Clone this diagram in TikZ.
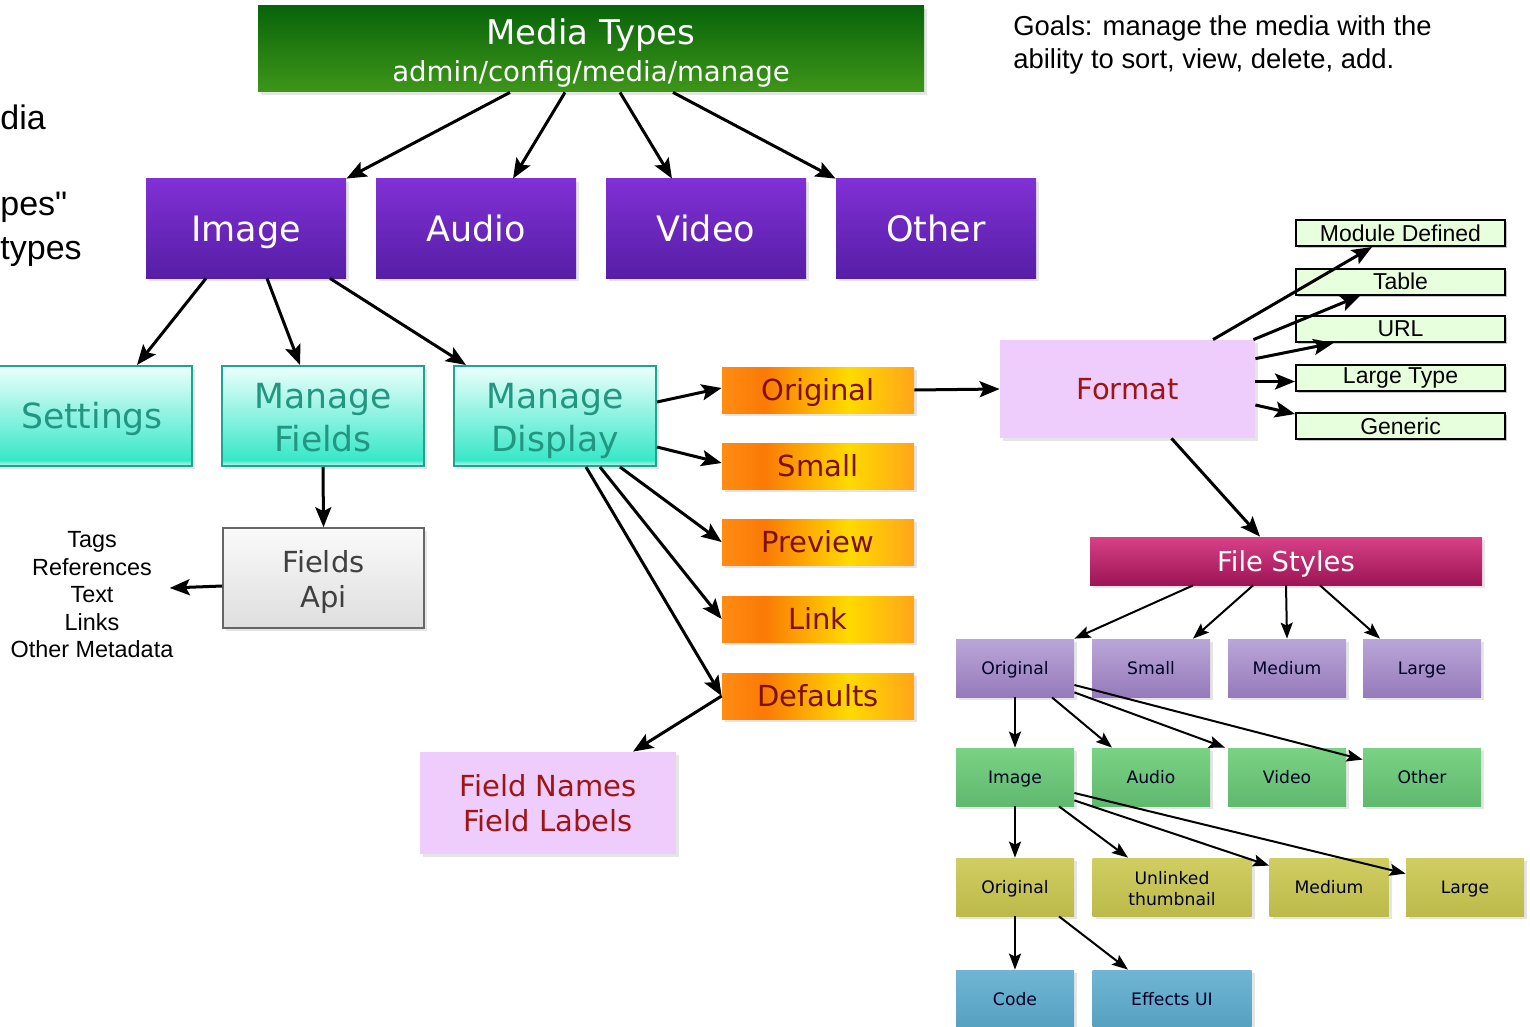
\documentclass[tikz,border=0pt]{standalone}
\usepackage{fontspec}
\setmainfont{DejaVu Sans}
\newfontfamily\helv{Liberation Sans}
\usetikzlibrary{arrows.meta,shadows}
\tikzset{>={Stealth[length=10pt,width=8pt,inset=2pt]}}
\definecolor{mtTop}{RGB}{8,100,10}
\definecolor{mtBot}{RGB}{62,150,25}
\definecolor{typeTop}{RGB}{128,48,212}
\definecolor{typeBot}{RGB}{86,30,166}
\definecolor{tealLo}{RGB}{205,250,240}
\definecolor{tealMid}{RGB}{55,232,200}
\definecolor{tealHi}{RGB}{236,255,252}
\definecolor{tealLine}{RGB}{30,165,145}
\definecolor{tealText}{RGB}{35,150,130}
\definecolor{orA}{RGB}{255,140,20}
\definecolor{orB}{RGB}{250,122,5}
\definecolor{orC}{RGB}{255,218,0}
\definecolor{orD}{RGB}{255,165,25}
\definecolor{wine}{RGB}{125,15,5}
\definecolor{brick}{RGB}{160,20,20}
\definecolor{lilac}{RGB}{238,205,252}
\definecolor{mint}{RGB}{232,255,222}
\definecolor{apiTop}{RGB}{250,250,250}
\definecolor{apiBot}{RGB}{222,222,222}
\definecolor{fsTop}{RGB}{215,65,135}
\definecolor{fsBot}{RGB}{158,20,85}
\definecolor{pTop}{RGB}{186,166,216}
\definecolor{pBot}{RGB}{150,122,186}
\definecolor{gTop}{RGB}{122,210,132}
\definecolor{gBot}{RGB}{95,185,110}
\definecolor{yTop}{RGB}{208,206,98}
\definecolor{yBot}{RGB}{188,186,74}
\definecolor{bTop}{RGB}{112,182,212}
\definecolor{bBot}{RGB}{86,160,192}
\colorlet{smallText}{black!85!blue}
\pgfdeclareverticalshading{tealfill}{100bp}{color(0bp)=(tealLo); color(25bp)=(tealLo); color(28bp)=(tealMid); color(75bp)=(tealHi); color(100bp)=(tealHi)}
\pgfdeclarehorizontalshading{orangefill}{100bp}{color(0bp)=(orA); color(25bp)=(orA); color(36bp)=(orB); color(58bp)=(orC); color(75bp)=(orD); color(100bp)=(orD)}
\tikzset{
  box/.style={rectangle, inner sep=2pt, align=center,
    drop shadow={opacity=.2, shadow xshift=1.5pt, shadow yshift=-1.5pt}},
  mtbox/.style={box, top color=mtTop, bottom color=mtBot, text=white, text height=33pt, text depth=0pt,
    minimum width=333pt, minimum height=43pt, font=\fontsize{17}{18.5}\selectfont},
  typebox/.style={box, top color=typeTop, bottom color=typeBot, text=white, text height=12.8pt, text depth=0pt,
    minimum width=100pt, minimum height=49.5pt, font=\fontsize{17.5}{21}\selectfont},
  pagebox/.style={box, shading=tealfill, draw=tealLine, line width=1pt, text=tealText,
    minimum width=100pt, minimum height=50pt, font=\fontsize{17.3}{21.5}\selectfont},
  onerow/.style={text height=12.6pt, text depth=0pt},
  tworow/.style={text height=35pt, text depth=0pt},
  apibox/.style={box, top color=apiTop, bottom color=apiBot, draw=black!60, line width=.8pt,
    text=black!75, text height=29pt, text depth=0pt,
    minimum width=100.5pt, minimum height=50pt, font=\fontsize{14.5}{17.5}\selectfont},
  fmtbox/.style={box, shading=orangefill, text=wine, text height=10.6pt, text depth=0pt,
    minimum width=96pt, minimum height=23pt, font=\fontsize{14.5}{17.5}\selectfont},
  pinkbox/.style={box, fill=lilac, text=brick, font=\fontsize{14.5}{17.5}\selectfont},
  typebar/.style={rectangle, draw=black, line width=1pt, fill=mint, inner sep=0pt,
    minimum width=104.5pt, minimum height=13pt, font=\helv\fontsize{11.5}{13}\selectfont,
    drop shadow={opacity=.45, shadow xshift=1pt, shadow yshift=-1pt}},
  fsbox/.style={box, top color=fsTop, bottom color=fsBot, text=white, text height=10pt, text depth=0pt,
    minimum width=196pt, minimum height=24pt, font=\fontsize{13.7}{16}\selectfont},
  small/.style={box, minimum width=59pt, minimum height=29pt, text=smallText,
    text height=6.3pt, text depth=0pt, font=\fontsize{8.6}{10.5}\selectfont},
  psmall/.style={small, top color=pTop, bottom color=pBot},
  gsmall/.style={small, top color=gTop, bottom color=gBot},
  ysmall/.style={small, top color=yTop, bottom color=yBot},
  bsmall/.style={small, top color=bTop, bottom color=bBot},
  note/.style={inner sep=0pt, font=\helv\fontsize{11.7}{13.75}\selectfont},
  cut/.style={anchor=base west, inner sep=0pt, font=\helv\fontsize{17}{21}\selectfont},
  arr/.style={->, line width=1.5pt},
  sarr/.style={-{Stealth[length=8pt,width=6pt,inset=1.5pt]}, line width=1pt}
}

\begin{document}
\begin{tikzpicture}[x=0.5pt,y=-0.5pt]
  \fill[white] (0,0) rectangle (1530,1027);
  \clip (0,0) rectangle (1530,1027);

  % cut off on the left
  \node[cut] (l1) at (0,130) {dia};
  \node[cut] (l2) at (0,216) {pes"};
  \node[cut] (l3) at (0,259) {types};

  \node[anchor=west, align=left, inner sep=0pt, font=\helv\fontsize{13.7}{16.5}\selectfont] (goals) at (1013,45)
    {Goals: manage the media with the\\ability to sort, view, delete, add.};

  \node[mtbox] (media) at (591,49) {Media Types\\{\fontsize{13.8}{18.5}\selectfont admin/config/media/manage}};

  \node[typebox] (image) at (246,228.5) {Image};
  \node[typebox] (audio) at (476,228.5) {Audio};
  \node[typebox] (video) at (706,228.5) {Video};
  \node[typebox] (other) at (936,228.5) {Other};

  \node[pagebox, onerow] (settings) at (92,416) {Settings};
  \node[pagebox, tworow, minimum width=101pt] (fields) at (323,416) {Manage\\Fields};
  \node[pagebox, tworow, minimum width=101pt] (display) at (555,416) {Manage\\Display};

  \node[apibox] (api) at (323.5,578) {Fields\\Api};
  \node[note, align=center] (meta) at (92,595) {Tags\\References\\Text\\Links\\Other Metadata};

  \foreach \n/\t/\y in {orig/Original/390, small/Small/466, preview/Preview/542, link/Link/619, defaults/Defaults/696}
    \node[fmtbox] (\n) at (818,\y) {\t};

  \node[pinkbox, minimum width=128pt, minimum height=51pt] (names) at (548,803) {Field Names\\Field Labels};
  \node[pinkbox, minimum width=127.5pt, minimum height=49pt] (format) at (1127.5,389) {Format};

  \node[typebar] (moddef) at (1400.5,233) {Module Defined};
  \node[typebar] (table) at (1400.5,281.5) {Table};
  \node[typebar] (url) at (1400.5,329) {URL};
  \node[typebar] (large) at (1400.5,377.5) {Large Type};
  \node[typebar] (generic) at (1400.5,426) {Generic};

  \node[fsbox] (styles) at (1286,561) {File Styles};

  \node[psmall] (s1) at (1015,668) {Original};
  \node[psmall] (s2) at (1151,668) {Small};
  \node[psmall] (s3) at (1287,668) {Medium};
  \node[psmall] (s4) at (1422,668) {Large};

  \node[gsmall] (g1) at (1015,777) {Image};
  \node[gsmall] (g2) at (1151,777) {Audio};
  \node[gsmall] (g3) at (1287,777) {Video};
  \node[gsmall] (g4) at (1422,777) {Other};

  \node[ysmall] (y1) at (1015,887) {Original};
  \node[ysmall, minimum width=79.5pt, text height=18pt] (y2) at (1172,887) {Unlinked\\thumbnail};
  \node[ysmall, minimum width=59.5pt] (y3) at (1329,887) {Medium};
  \node[ysmall] (y4) at (1465,887) {Large};

  \node[bsmall] (b1) at (1015,999) {Code};
  \node[bsmall, minimum width=79.5pt] (b2) at (1172,999) {Effects UI};

  % media types
  \draw[arr] ([xshift=-40.5pt]media.south) -- (image.north east);
  \draw[arr] ([xshift=-13pt]media.south) -- ([xshift=18.5pt]audio.north);
  \draw[arr] ([xshift=14.5pt]media.south) -- ([xshift=-17pt]video.north);
  \draw[arr] ([xshift=41pt]media.south) -- (other.north west);

  \draw[arr] ([xshift=-20pt]image.south) -- ([xshift=22.5pt]settings.north);
  \draw[arr] ([xshift=10.5pt]image.south) -- ([xshift=-11.5pt]fields.north);
  \draw[arr] ([xshift=42pt]image.south) -- ([xshift=6.5pt]display.north west);
  \draw[arr] (fields.south) -- (api.north);
  \draw[arr] ([yshift=-4pt]api.west) -- ([xshift=-2pt,yshift=3.5pt]meta.east);

  % display
  \draw[arr] ([yshift=7pt]display.east) -- ([yshift=1pt]orig.west);
  \draw[arr] ([yshift=-15.5pt]display.east) -- ([yshift=1.5pt]small.west);
  \draw[arr] ([xshift=32.5pt]display.south) -- (preview.west);
  \draw[arr] ([xshift=22.5pt]display.south) -- (link.west);
  \draw[arr] ([xshift=15.5pt]display.south) -- (defaults.west);
  \draw[arr] (defaults.west) -- ([xshift=42.5pt]names.north);
  \draw[arr] (orig.east) -- (format.west);

  % format
  \draw[arr] ([xshift=42.75pt]format.north) -- ([xshift=-14.25pt]moddef.south);
  \draw[arr] ([xshift=-1pt]format.north east) -- ([xshift=-20pt]table.south);
  \draw[arr] ([yshift=-9.5pt]format.north east) -- ([xshift=-33.5pt]url.south);
  \draw[arr] ([yshift=-2pt]format.east |- large.west) -- ([yshift=-2pt]large.west);
  \draw[arr] ([yshift=-8pt]format.east) -- ([yshift=-1pt]generic.north west);
  \draw[arr] ([xshift=22pt]format.south) -- ([xshift=-13pt]styles.north);

  % file styles
  \draw[sarr] ([xshift=-46.5pt]styles.south) -- (s1.north east);
  \draw[sarr] ([xshift=-16.5pt]styles.south) -- ([xshift=21pt]s2.north);
  \draw[sarr] (styles.south) -- (s3.north);
  \draw[sarr] ([xshift=17pt]styles.south) -- ([xshift=-21pt]s4.north);

  \draw[sarr] (s1.south) -- (g1.north);
  \draw[sarr] ([xshift=18.5pt]s1.south) -- ([xshift=-19.5pt]g2.north);
  \draw[sarr] ([yshift=2.5pt]s1.south east) -- ([xshift=-31pt]g3.north);
  \draw[sarr] ([yshift=-8.5pt]s1.east) -- ([yshift=-6pt]g4.north west);

  \draw[sarr] (g1.south) -- (y1.north);
  \draw[sarr] ([xshift=22pt]g1.south) -- ([xshift=-22pt]y2.north);
  \draw[sarr] ([yshift=3pt]g1.south east) -- ([yshift=-4pt]y3.north west);
  \draw[sarr] ([yshift=-8pt]g1.east) -- ([yshift=-8pt]y4.north west);

  \draw[sarr] (y1.south) -- (b1.north);
  \draw[sarr] ([xshift=22pt]y1.south) -- ([xshift=-22pt]b2.north);
\end{tikzpicture}
\end{document}
